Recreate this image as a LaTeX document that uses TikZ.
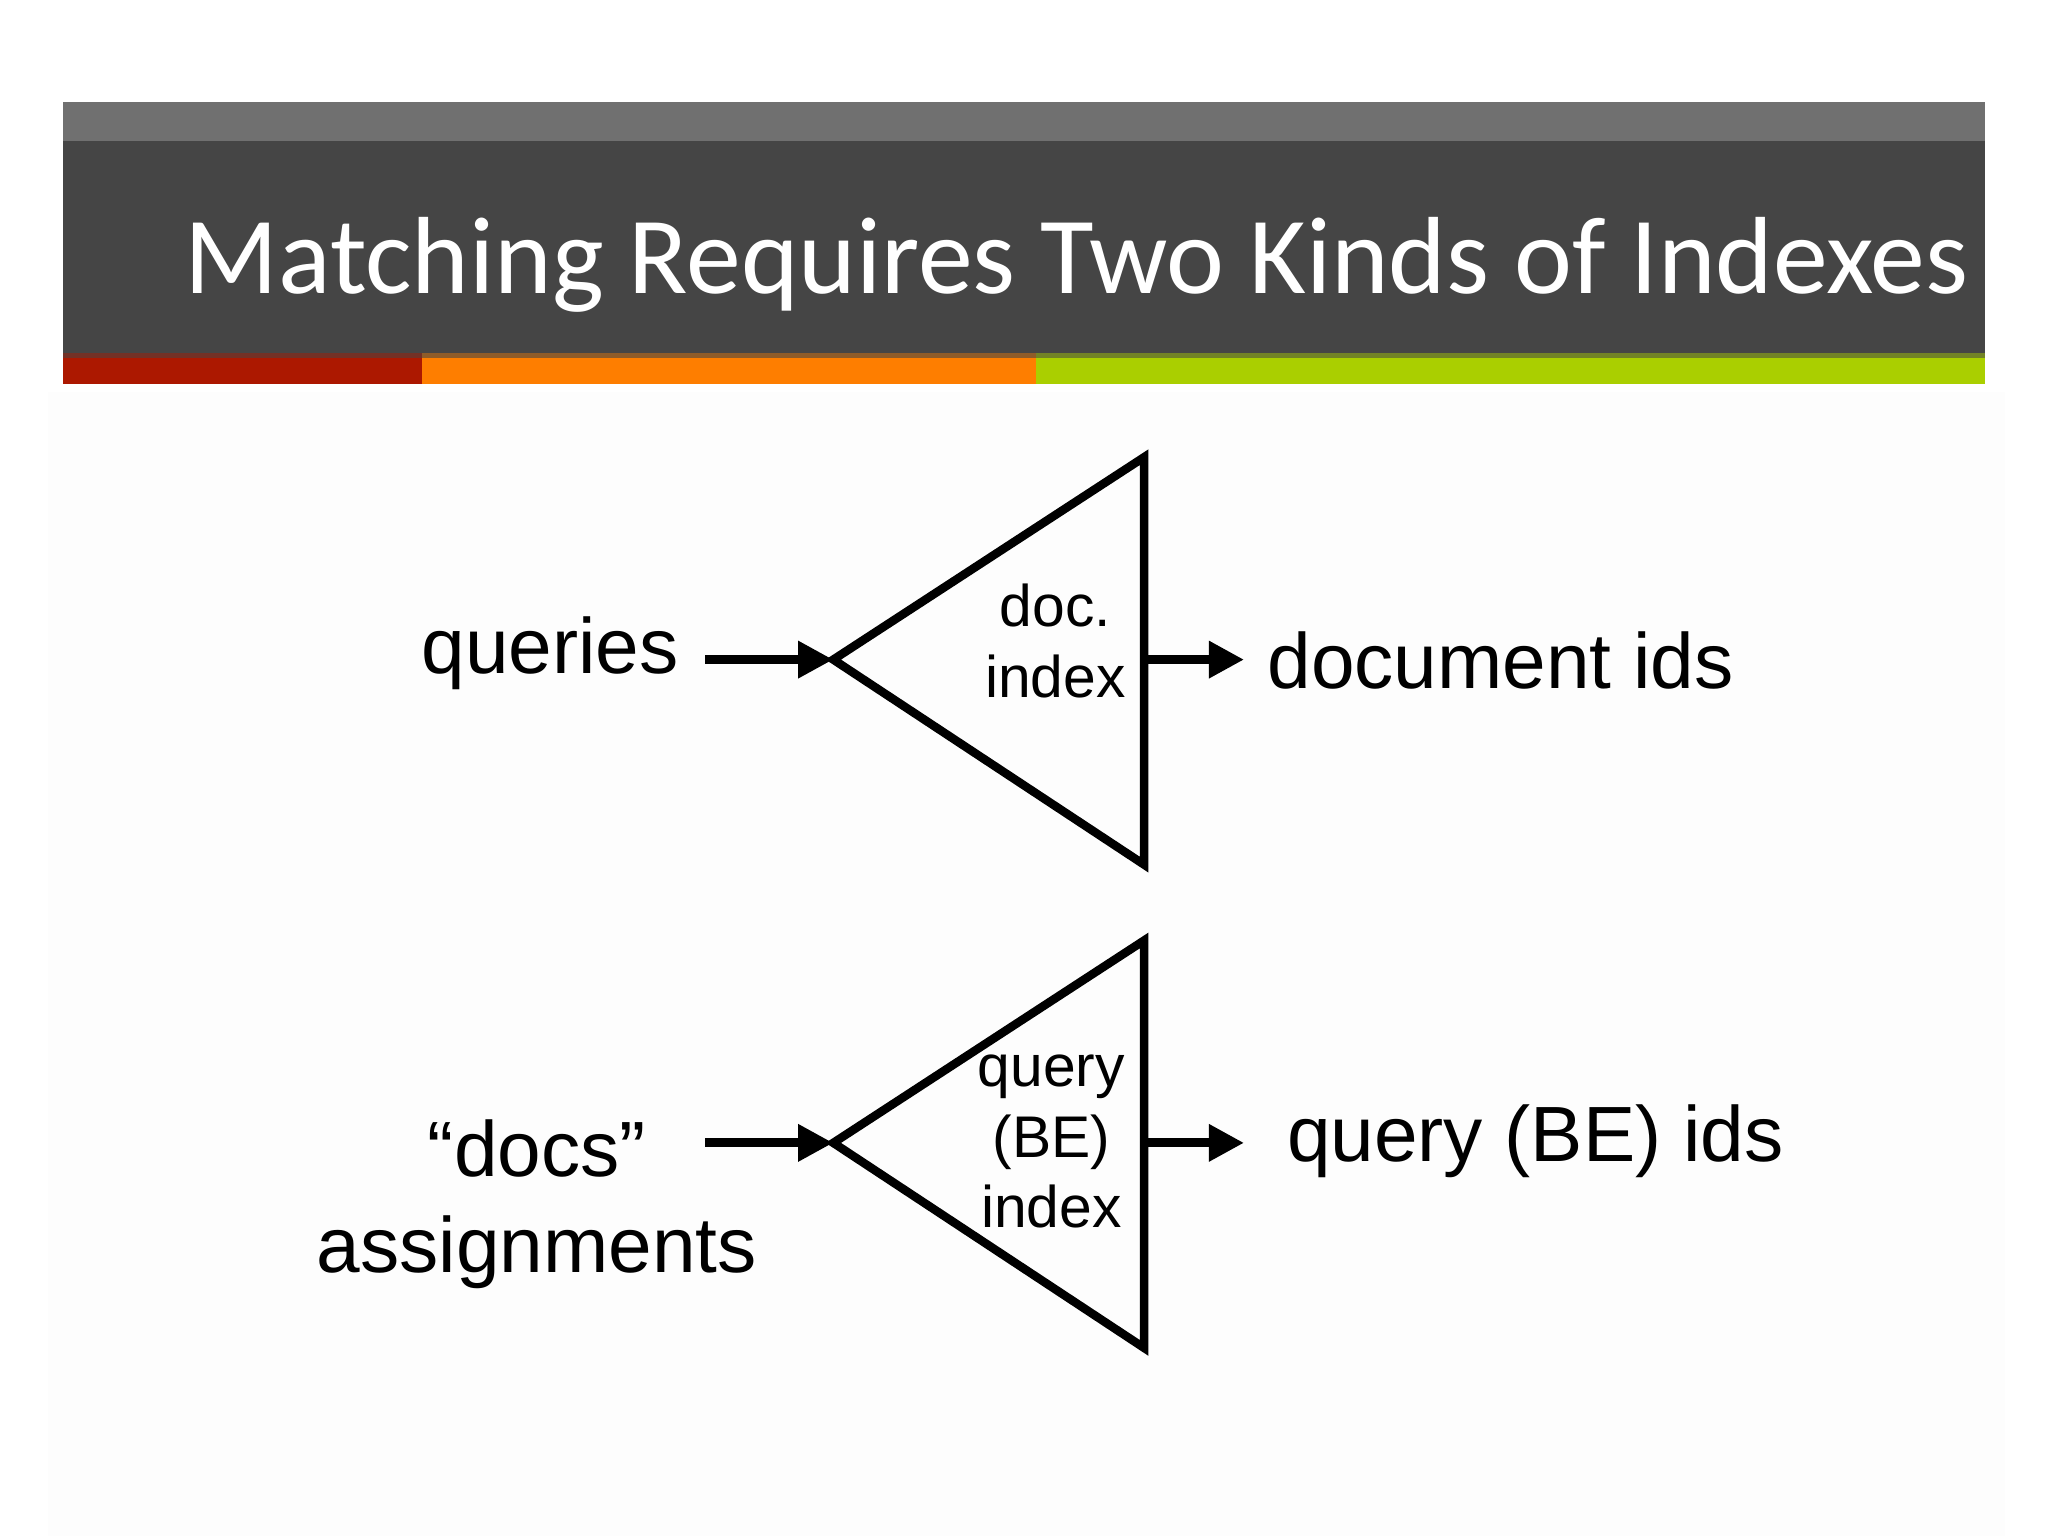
\documentclass[tikz,border=0pt]{standalone}
\usepackage{fontspec}
\setmainfont{Liberation Sans}
\newfontfamily\titlefont{Carlito}
\usetikzlibrary{arrows.meta}

\definecolor{barTop}{HTML}{707070}
\definecolor{barDark}{HTML}{454545}
\definecolor{stripRed}{HTML}{AC1800}
\definecolor{stripOrange}{HTML}{FE7E00}
\definecolor{stripGreen}{HTML}{AACF00}
\definecolor{pagePanel}{HTML}{FDFDFD}

\tikzset{every picture/.style={line width=0.75pt}}
\tikzset{
  idxshape/.style={line width=6.5pt, line join=miter},
  flow/.style={line width=7pt, -{Triangle[length=27pt,width=27pt]}},
  biglabel/.style={font=\fontsize{60}{73.5}\selectfont, inner sep=0pt, align=center},
  idxlabel/.style={font=\fontsize{45}{54}\selectfont, inner sep=0pt, align=center},
}

\begin{document}
\begin{tikzpicture}[x=1pt,y=1pt,yscale=-1]
	\useasboundingbox (0,0) rectangle (1568,1176);

	%Shape: Rectangle [panel]
	\fill [pagePanel] (37,300) rectangle (1535,1176);
	%Shape: Rectangle [header]
	\fill [barTop] (48.5,78) rectangle (1519.5,108);
	\fill [barDark] (48.5,108) rectangle (1519.5,274);
	\fill [stripRed] (48.5,274) rectangle (323,294);
	\fill [stripOrange] (323,274) rectangle (793,294);
	\fill [stripGreen] (793,274) rectangle (1519.5,294);
	\fill [stripRed!45!barDark] (48.5,270) rectangle (323,274);
	\fill [stripOrange!40!barDark] (323,270) rectangle (793,274);
	\fill [stripGreen!45!barDark] (793,270) rectangle (1519.5,274);

	% Text Node
	\node [anchor=base west, inner sep=0pt, text=white, font=\titlefont\fontsize{84}{100}\selectfont] (title) at (141,224.5) {Matching Requires Two Kinds of Indexes};

	%Shape: Triangle [doc index]
	\coordinate (docApex) at (638,505);
	\coordinate (docTop) at (876,350);
	\coordinate (docBot) at (876,662);
	\coordinate (docOut) at (876,505);
	\coordinate (docEnd) at (952.5,505);
	\draw [idxshape] (docApex) -- (docTop) -- (docBot) -- cycle;

	%Shape: Triangle [query index]
	\coordinate (qryApex) at (638,875);
	\coordinate (qryTop) at (876,720);
	\coordinate (qryBot) at (876,1032);
	\coordinate (qryOut) at (876,875);
	\coordinate (qryEnd) at (952.5,875);
	\draw [idxshape] (qryApex) -- (qryTop) -- (qryBot) -- cycle;

	% Text Node
	\node [idxlabel, anchor=base] (docIdx) at (808,534) {doc.\\index};
	% Text Node
	\node [idxlabel, anchor=base] (qryIdx) at (805,940) {query\\(BE)\\index};

	% Text Node
	\node [biglabel, anchor=base east] (queries) at (520,516) {queries};
	% Text Node
	\node [biglabel, anchor=base west] (docIds) at (970,527) {document ids};
	% Text Node
	\node [biglabel, anchor=base] (docs) at (411,974.5) {“docs”\\assignments};
	% Text Node
	\node [biglabel, anchor=base west] (qryIds) at (985,889) {query (BE) ids};

	%Straight Lines [inputs]
	\coordinate (queriesIn) at (540,505);
	\coordinate (docsIn) at (540,875);
	\draw [flow] (queriesIn) -- (docApex);
	\draw [flow] (docsIn) -- (qryApex);
	%Straight Lines [outputs]
	\draw [flow] (docOut) -- (docEnd);
	\draw [flow] (qryOut) -- (qryEnd);

\end{tikzpicture}
\end{document}
